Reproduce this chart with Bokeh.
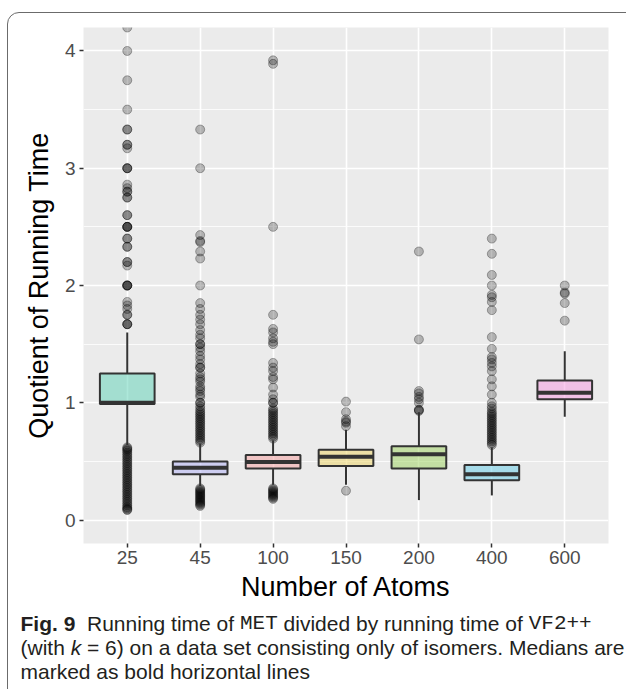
from bokeh.plotting import figure
from bokeh.layouts import column
from bokeh.models import (FactorRange, Range1d, FixedTicker, ColumnDataSource,
                          InlineStyleSheet)
from bokeh.core.properties import value
from bokeh.embed import file_html
from bokeh.resources import INLINE

# ---------------- data ----------------
categories = ["25", "45", "100", "150", "200", "400", "600"]
lower_whisker = [0.64, 0.29, 0.30, 0.30, 0.17, 0.21, 0.88]
q1 = [0.99, 0.39, 0.44, 0.46, 0.44, 0.34, 1.03]
median = [1.00, 0.445, 0.495, 0.54, 0.56, 0.39, 1.085]
q3 = [1.25, 0.50, 0.555, 0.60, 0.63, 0.47, 1.19]
upper_whisker = [1.60, 0.65, 0.68, 0.77, 0.92, 0.62, 1.44]

outliers_25 = [4.2, 4.0, 3.75, 3.5, 3.33, 3.33, 3.2, 3.2, 3.17, 3.0, 3.0, 3.0,
               2.86, 2.83, 2.8, 2.8, 2.75, 2.75, 2.6, 2.6, 2.5, 2.5, 2.5, 2.5,
               2.4, 2.4, 2.33, 2.33, 2.2, 2.2, 2.17, 2.0, 2.0, 2.0, 2.0,
               1.86, 1.83, 1.8, 1.75, 1.75, 1.67, 1.67, 1.67,
               0.62, 0.61, 0.60, 0.59, 0.575, 0.56, 0.545, 0.53, 0.515, 0.50,
               0.485, 0.47, 0.455, 0.44, 0.425, 0.41, 0.395, 0.38, 0.365, 0.35,
               0.335, 0.32, 0.305, 0.29, 0.275, 0.26, 0.245, 0.23, 0.215, 0.20,
               0.185, 0.17, 0.155, 0.14, 0.125, 0.11, 0.10, 0.09, 0.085]
outliers_45 = [3.33, 3.0, 2.43, 2.38, 2.37, 2.29, 2.23, 2.0, 1.85, 1.8, 1.75,
               1.71, 1.67, 1.62, 1.58, 1.55, 1.5, 1.5, 1.47, 1.44, 1.4, 1.37,
               1.33, 1.3, 1.3, 1.25, 1.22, 1.2, 1.18, 1.14, 1.12, 1.1, 1.07,
               1.05, 1.0, 1.0, 0.97, 0.95,
               0.93, 0.915, 0.90, 0.885, 0.87, 0.855, 0.84, 0.825, 0.81, 0.795,
               0.78, 0.765, 0.75, 0.735, 0.72, 0.705, 0.69, 0.675, 0.66,
               0.27, 0.26, 0.25, 0.24, 0.23, 0.22, 0.21, 0.20, 0.19, 0.18, 0.17,
               0.16, 0.15, 0.14, 0.13, 0.12]
outliers_100 = [3.92, 3.89, 2.5, 1.75, 1.63, 1.6, 1.55, 1.52, 1.5, 1.34, 1.3,
                1.27, 1.22, 1.2, 1.13, 1.07, 1.03, 1.0, 1.0,
                0.95, 0.935, 0.92, 0.905, 0.89, 0.875, 0.86, 0.845, 0.83, 0.815,
                0.80, 0.785, 0.77, 0.755, 0.74, 0.725, 0.71, 0.695,
                0.27, 0.26, 0.25, 0.24, 0.23, 0.22, 0.21, 0.20, 0.19, 0.18]
outliers_150 = [1.01, 0.92, 0.86, 0.84, 0.83, 0.80, 0.25]
outliers_200 = [2.29, 1.54, 1.10, 1.08, 1.05, 1.03, 1.0, 0.94, 0.94, 0.93]
outliers_400 = [2.40, 2.27, 2.09, 2.0, 1.92, 1.90, 1.86, 1.79, 1.56, 1.46, 1.39,
                1.37, 1.34, 1.31, 1.27, 1.2, 1.14, 1.07, 1.0, 0.97, 0.95,
                0.925, 0.91, 0.895, 0.88, 0.865, 0.85, 0.835, 0.82, 0.805, 0.79,
                0.775, 0.76, 0.745, 0.73, 0.715, 0.70, 0.685, 0.67, 0.655, 0.64]
outliers_600 = [2.0, 1.94, 1.93, 1.85, 1.70]

box_colors = ["#5bd1b5", "#afaff5", "#f59d9d", "#edd35f", "#9bd15b", "#61cbe7", "#f595df"]

y_ticks = [0, 1, 2, 3, 4]
y_minor = [0.5, 1.5, 2.5, 3.5]

x_title = "Number of Atoms"
y_title = "Quotient of Running Time"

# ---------------- main figure ----------------
p = figure(width=626, height=610,
           x_range=FactorRange(factors=categories, range_padding=0.1,
                               range_padding_units="absolute"),
           y_range=Range1d(-0.2, 4.2),
           output_backend="svg", toolbar_location=None,
           min_border_left=83, min_border_right=18,
           min_border_top=27, min_border_bottom=67)
p.frame_align = False
p.background_fill_color = "#ebebeb"
p.border_fill_color = "white"
p.outline_line_color = None

p.yaxis.ticker = FixedTicker(ticks=y_ticks, minor_ticks=y_minor)
p.xgrid.grid_line_color = "white"
p.xgrid.grid_line_width = 1.6
p.ygrid.grid_line_color = "white"
p.ygrid.grid_line_width = 1.6
p.ygrid.minor_grid_line_color = "white"
p.ygrid.minor_grid_line_width = 0.8

for ax in (p.xaxis[0], p.yaxis[0]):
    ax.axis_line_color = None
    ax.major_tick_line_color = "#333333"
    ax.major_tick_line_width = 1.5
    ax.major_tick_out = 4
    ax.major_tick_in = 0
    ax.minor_tick_line_color = None
    ax.major_label_text_font = "Liberation Sans"
    ax.major_label_text_font_size = "19px"
    ax.major_label_text_color = "#4d4d4d"
    ax.axis_label_text_font = "Liberation Sans"
    ax.axis_label_text_font_size = "27px"
    ax.axis_label_text_font_style = "normal"
    ax.axis_label_text_color = "black"

p.xaxis.axis_label = x_title
p.yaxis.axis_label = y_title
p.xaxis.major_label_standoff = 3
p.xaxis.axis_label_standoff = 5
p.yaxis.major_label_standoff = 4
p.yaxis.axis_label_standoff = 8

# outliers
xs, ys = [], []
for cat, vals in zip(categories, [outliers_25, outliers_45, outliers_100, outliers_150,
                                  outliers_200, outliers_400, outliers_600]):
    xs += [cat] * len(vals)
    ys += vals
p.scatter(x=xs, y=ys, size=9, fill_color="black", fill_alpha=0.25,
          line_color="black", line_alpha=0.3, line_width=1)

src = ColumnDataSource(dict(cat=categories, lw=lower_whisker, q1=q1, med=median,
                            q3=q3, uw=upper_whisker, color=box_colors))
p.segment(x0="cat", y0="q3", x1="cat", y1="uw", source=src, line_color="#333333", line_width=2)
p.segment(x0="cat", y0="q1", x1="cat", y1="lw", source=src, line_color="#333333", line_width=2)
p.vbar(x="cat", width=0.75, top="q3", bottom="q1", source=src, fill_color="color",
       fill_alpha=0.5, line_color="#333333", line_width=2)
p.rect(x="cat", y="med", width=0.75, height=4, height_units="screen", source=src,
       fill_color="#333333", line_color=None)

# ---------------- caption figure ----------------
CAP_H = 79
cap = figure(width=626, height=CAP_H, x_range=Range1d(0, 626), y_range=Range1d(CAP_H, 0),
             output_backend="svg", toolbar_location=None,
             x_axis_type=None, y_axis_type=None,
             min_border_left=0, min_border_right=0, min_border_top=0, min_border_bottom=0)
cap.frame_align = False
cap.outline_line_color = None
cap.background_fill_color = "white"
cap.border_fill_color = "white"

REG = {' ': 278, '(': 333, ')': 333, '.': 278, '=': 584, '6': 556, '9': 556,
       'a': 556, 'b': 556, 'c': 500, 'd': 556, 'e': 556, 'f': 278, 'g': 556,
       'h': 556, 'i': 222, 'k': 500, 'l': 222, 'm': 833, 'n': 556, 'o': 556,
       'p': 556, 'r': 333, 's': 500, 't': 278, 'u': 556, 'v': 500, 'w': 722,
       'y': 500, 'z': 500, 'M': 833, 'R': 722, 'F': 611}
BOLD = {'F': 611, 'i': 278, 'g': 611, '.': 278, ' ': 278, '9': 556}

fs = 21
sp = 278 * fs / 1000.0


def w(txt, table):
    return sum(table.get(c, 556) for c in txt) * fs / 1000.0


def lab(txt, x, ybase, font="Liberation Sans", style="normal"):
    cap.text(x=[x], y=[ybase], text=[txt], text_font=value(font),
             text_font_size=value(f"{fs}px"), text_font_style=value(style),
             text_color="#231f20", text_baseline="alphabetic", text_align="left")


y1, y2, y3 = 13, 37, 61
x0 = 20
cx = x0
lab("Fig. 9", cx, y1, style="bold")
cx += w("Fig. 9", BOLD) + 2 * sp
lab("Running time of", cx, y1)
cx += w("Running time of ", REG)
lab("MET", cx, y1, font="Liberation Mono")
cx += 3 * 0.6 * fs + sp
lab("divided by running time of", cx, y1)
cx += w("divided by running time of ", REG)
lab("VF2++", cx, y1, font="Liberation Mono")

cx = x0
lab("(with", cx, y2)
cx += w("(with ", REG)
lab("k", cx, y2, style="italic")
cx += 0.5 * fs + sp
lab("= 6) on a data set consisting only of isomers. Medians are", cx, y2)

lab("marked as bold horizontal lines", x0, y3)

# rounded outer frame (CSS overlay around the whole figure)
css = (":host{position:relative;overflow:hidden;}"
       ":host::after{content:'';position:absolute;left:7px;top:12px;"
       "width:632px;height:700px;border:1.5px solid #6b6b6b;border-radius:12px;"
       "box-sizing:border-box;pointer-events:none;}")
layout = column(p, cap, spacing=0, stylesheets=[InlineStyleSheet(css=css)])

open("out.html", "w").write(file_html(layout, INLINE))
